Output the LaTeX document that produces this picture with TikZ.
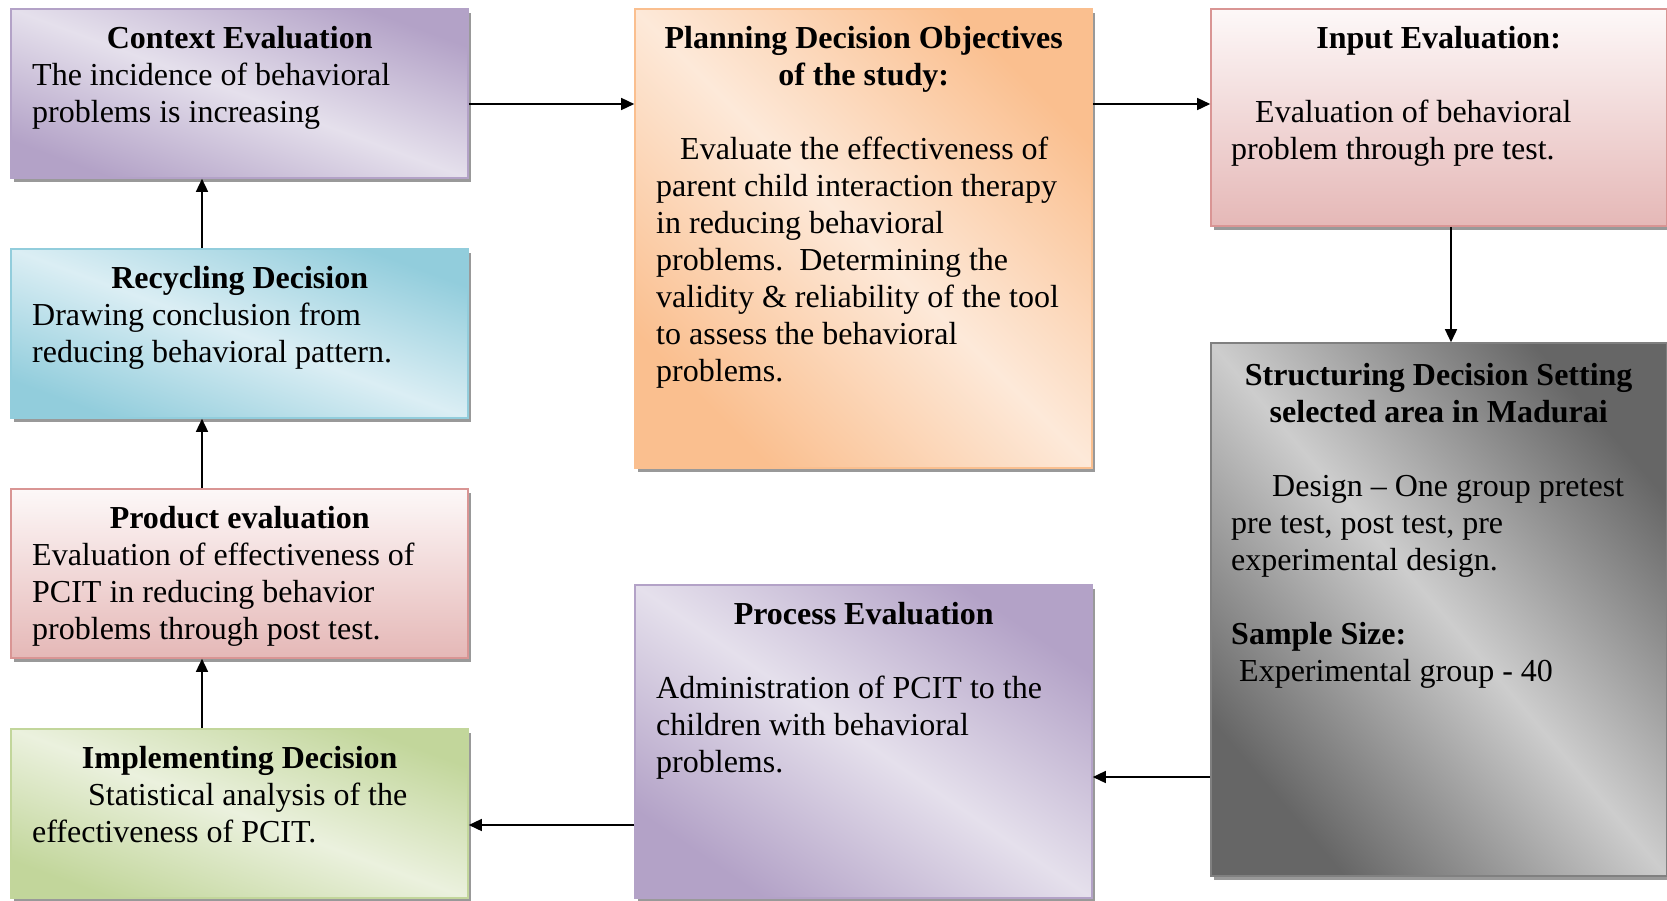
\documentclass[tikz,border=0pt]{standalone}
\usepackage{fontspec}
\setmainfont{Liberation Serif}
\usetikzlibrary{arrows.meta,shadows}

\definecolor{purpD}{HTML}{B3A2C7}
\definecolor{purpL}{HTML}{E5E0EC}
\definecolor{cyanD}{HTML}{92CDDC}
\definecolor{cyanL}{HTML}{DBEEF4}
\definecolor{pinkT}{HTML}{FDF8F8}
\definecolor{pinkB}{HTML}{E5B8B7}
\definecolor{pinkE}{HTML}{D99594}
\definecolor{greenD}{HTML}{C2D69B}
\definecolor{greenL}{HTML}{EBF1DE}
\definecolor{orangeD}{HTML}{FABF8F}
\definecolor{orangeL}{HTML}{FDE9D9}
\definecolor{grayD}{HTML}{666666}
\definecolor{grayL}{HTML}{CDCDCD}
\definecolor{grayE}{HTML}{808080}

% paragraph setup for the box texts: ragged right, plain word spaces
\newcommand\boxpar{\raggedright\spaceskip=0.25em\xspaceskip=0.25em\relax}

\tikzset{
  panel/.style={rectangle, inner sep=0pt, line width=1.6pt,
    general shadow={fill=black!40, shadow xshift=3pt, shadow yshift=-4pt}},
  % dark corners top right and bottom left, light band along the other diagonal
  diag/.style n args={4}{panel, draw=#3, top color=#1, bottom color=#1,
    middle color=#2, shading angle=#4},
  vert/.style n args={3}{panel, draw=#3, top color=#1, bottom color=#2},
  txt/.style={inner sep=0pt, anchor=base west,
    font=\fontsize{32}{37}\selectfont},
  link/.style={line width=1.5pt, -{Triangle[length=13pt,width=12pt]}},
}

\begin{document}
\begin{tikzpicture}[x=1pt,y=-1pt]
\useasboundingbox (0,0) rectangle (1667,900);

% boxes
\node[diag={purpD}{purpL}{purpD}{-20.3}, minimum width=457pt, minimum height=169pt] (ctx) at (239.5,93.5) {};
\node[diag={cyanD}{cyanL}{cyanD}{-20.3}, minimum width=457pt, minimum height=169pt] (rec) at (239.5,333.5) {};
\node[vert={pinkT}{pinkB}{pinkE}, minimum width=457pt, minimum height=169pt] (prod) at (239.5,573.5) {};
\node[diag={greenD}{greenL}{greenD}{-20.3}, minimum width=457pt, minimum height=169pt] (impl) at (239.5,813.5) {};
\node[diag={orangeD}{orangeL}{orangeD}{-45}, minimum width=457pt, minimum height=459pt] (plan) at (863.5,238.5) {};
\node[diag={purpD}{purpL}{purpD}{-34.4}, minimum width=457pt, minimum height=313pt] (proc) at (863.5,741.5) {};
\node[vert={pinkT}{pinkB}{pinkE}, minimum width=456pt, minimum height=217pt] (inp) at (1439,117.5) {};
\node[diag={grayD}{grayL}{grayE}{-49.4}, minimum width=456pt, minimum height=533pt] (st) at (1439,609.5) {};

% texts
\node[txt, text width=415pt] (ctxT) at (32,48)
  {\boxpar{\centering\bfseries Context Evaluation\par}
   The incidence of behavioral\\problems is increasing};
\node[txt, text width=415pt] (recT) at (32,288)
  {\boxpar{\centering\bfseries Recycling Decision\par}
   Drawing conclusion from\\reducing behavioral pattern.};
\node[txt, text width=415pt] (prodT) at (32,528)
  {\boxpar{\centering\bfseries Product evaluation\par}
   Evaluation of effectiveness of\\PCIT in reducing behavior\\problems through post test.};
\node[txt, text width=415pt] (implT) at (32,768.5)
  {\boxpar{\centering\bfseries Implementing Decision\par}
   \hspace*{56pt}Statistical analysis of the\\effectiveness of PCIT.};
\node[txt, text width=415pt] (planT) at (656,48)
  {\boxpar{\centering\bfseries Planning Decision Objectives\\of the study:\par}
   \vspace{37pt}
   \hspace*{24pt}Evaluate the effectiveness of\\parent child interaction therapy\\in reducing behavioral\\problems.\ \ Determining the\\validity \& reliability of the tool\\to assess the behavioral\\problems.};
\node[txt, text width=415pt] (procT) at (656,624)
  {\boxpar{\centering\bfseries Process Evaluation\par}
   \vspace{37pt}
   Administration of PCIT to the\\children with behavioral\\problems.};
\node[txt, text width=415pt] (inpT) at (1231,48)
  {\boxpar{\centering\bfseries Input Evaluation:\par}
   \vspace{37pt}
   \hspace*{24pt}Evaluation of behavioral\\problem through pre test.};
\node[txt, text width=415pt] (stT) at (1231,385)
  {\boxpar{\centering\bfseries Structuring Decision Setting\\selected area in Madurai\par}
   \vspace{37pt}
   \hspace*{41pt}Design – One group pretest\\pre test, post test, pre\\experimental design.\par
   \vspace{37pt}
   \textbf{Sample Size:}\\\hspace*{8pt}Experimental group - 40};

% connectors
\draw[link] ([yshift=-10.5pt]ctx.east) -- ([yshift=-10.5pt]ctx.east -| plan.west);
\draw[link] ([yshift=13.5pt]inp.west -| plan.east) -- ([yshift=13.5pt]inp.west);
\draw[link] ([xshift=12pt]inp.south) -- ([xshift=12pt]inp.south |- st.north);
\draw[link] ([yshift=-167.5pt]st.west) -- ([yshift=-167.5pt]st.west -| proc.east);
\draw[link] ([yshift=-83.5pt]proc.west) -- ([yshift=-83.5pt]proc.west -| impl.east);
\draw[link] ([xshift=-37.5pt]impl.north) -- ([xshift=-37.5pt]impl.north |- prod.south);
\draw[link] ([xshift=-37.5pt]prod.north) -- ([xshift=-37.5pt]prod.north |- rec.south);
\draw[link] ([xshift=-37.5pt]rec.north) -- ([xshift=-37.5pt]rec.north |- ctx.south);
\end{tikzpicture}
\end{document}
